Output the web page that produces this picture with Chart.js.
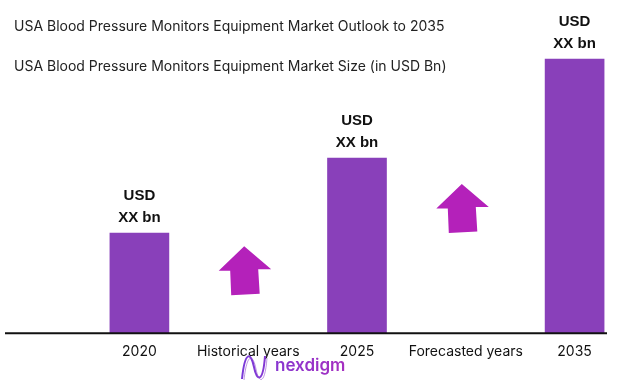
<!DOCTYPE html>
<html>
<head>
<meta charset="utf-8">
<script src="https://cdn.jsdelivr.net/npm/chart.js@4/dist/chart.umd.min.js"></script>
<style>
  html, body { margin: 0; padding: 0; background: #ffffff; }
  #wrap { position: relative; width: 629px; height: 386px; }
</style>
</head>
<body>
<div id="wrap"><canvas id="marketChart" width="629" height="386"></canvas></div>
<script>
  // Chart data
  const categories = ['2020', 'Historical years', '2025', 'Forecasted years', '2035'];
  const marketSize = [1.00, null, 1.75, null, 2.74]; // relative bar heights (values shown as "XX bn")
  const valueLabels = ['USD', 'XX bn'];
  const titleLines = [
    'USA Blood Pressure Monitors Equipment Market Outlook to 2035',
    'USA Blood Pressure Monitors Equipment Market Size (in USD Bn)'
  ];
  const arrowCategories = [1, 3];
  const arrowTips = [0.87, 1.49];

  const barColor = '#8940BA';
  const arrowColor = '#B421BA';

  // Draws titles, value labels, growth arrows, baseline and logo
  const decorPlugin = {
    id: 'decor',
    afterDatasetsDraw(chart) {
      const ctx = chart.ctx;
      const xScale = chart.scales.x;
      const yScale = chart.scales.y;
      const area = chart.chartArea;

      ctx.save();

      // Baseline
      ctx.strokeStyle = '#111111';
      ctx.lineWidth = 2;
      ctx.beginPath();
      ctx.moveTo(5, area.bottom);
      ctx.lineTo(607, area.bottom);
      ctx.stroke();

      // Titles
      ctx.fillStyle = '#222222';
      ctx.font = '14px Inter, "Open Sans", sans-serif';
      ctx.textAlign = 'left';
      ctx.textBaseline = 'middle';
      ctx.fillText(titleLines[0], 14, 27);
      ctx.fillText(titleLines[1], 14, 67);

      // Value labels above bars
      ctx.fillStyle = '#111111';
      ctx.font = 'bold 15px "Liberation Sans", Arial, sans-serif';
      ctx.textAlign = 'center';
      chart.getDatasetMeta(0).data.forEach((bar, i) => {
        if (marketSize[i] == null) return;
        ctx.fillText(valueLabels[0], bar.x, bar.y - 37);
        ctx.fillText(valueLabels[1], bar.x, bar.y - 15);
      });

      // Growth arrows
      ctx.fillStyle = arrowColor;
      arrowCategories.forEach((idx, i) => {
        const tx = xScale.getPixelForValue(idx) - 4;
        const ty = yScale.getPixelForValue(arrowTips[i]);
        const shape = [[0, 0], [27, 23], [14, 23], [15.5, 47.5], [-13, 49], [-14, 24.5], [-25.5, 24.5]];
        ctx.beginPath();
        shape.forEach((p, k) => {
          if (k === 0) ctx.moveTo(tx + p[0], ty + p[1]);
          else ctx.lineTo(tx + p[0], ty + p[1]);
        });
        ctx.closePath();
        ctx.fill();
      });

      // Logo
      const grad = ctx.createLinearGradient(242, 0, 345, 0);
      grad.addColorStop(0, '#7a3ad8');
      grad.addColorStop(1, '#a52fc0');
      ctx.strokeStyle = grad;
      ctx.lineWidth = 2;
      ctx.beginPath();
      ctx.moveTo(242, 379);
      ctx.bezierCurveTo(245, 350, 251, 352, 254, 367);
      ctx.bezierCurveTo(257, 382, 263, 383, 265, 356);
      ctx.stroke();
      ctx.lineWidth = 1;
      ctx.strokeStyle = 'rgba(150, 80, 210, 0.6)';
      ctx.beginPath();
      ctx.moveTo(244, 380);
      ctx.bezierCurveTo(247, 352, 253, 354, 256, 369);
      ctx.bezierCurveTo(259, 384, 265, 385, 267, 358);
      ctx.stroke();
      ctx.fillStyle = grad;
      ctx.font = '600 17px Inter, "Open Sans", sans-serif';
      ctx.textAlign = 'left';
      ctx.textBaseline = 'middle';
      ctx.fillText('nexdigm', 275, 366);

      ctx.restore();
    }
  };

  document.addEventListener('DOMContentLoaded', function() {
    const ctx = document.getElementById('marketChart').getContext('2d');

    new Chart(ctx, {
      type: 'bar',
      data: {
        labels: categories,
        datasets: [{
          data: marketSize,
          backgroundColor: barColor,
          borderWidth: 0,
          barThickness: 59
        }]
      },
      options: {
        responsive: false,
        animation: false,
        layout: {
          padding: { left: 85, right: 0, top: 0, bottom: 24 }
        },
        plugins: {
          legend: { display: false },
          tooltip: { enabled: false }
        },
        scales: {
          x: {
            grid: { display: false },
            border: { display: false },
            ticks: {
              color: '#111111',
              padding: 2,
              maxRotation: 0,
              autoSkip: false,
              font: {
                family: 'Inter, "Open Sans", sans-serif',
                size: 14
              }
            }
          },
          y: {
            display: false,
            min: 0,
            max: 3.33
          }
        }
      },
      plugins: [decorPlugin]
    });
  });
</script>
</body>
</html>
